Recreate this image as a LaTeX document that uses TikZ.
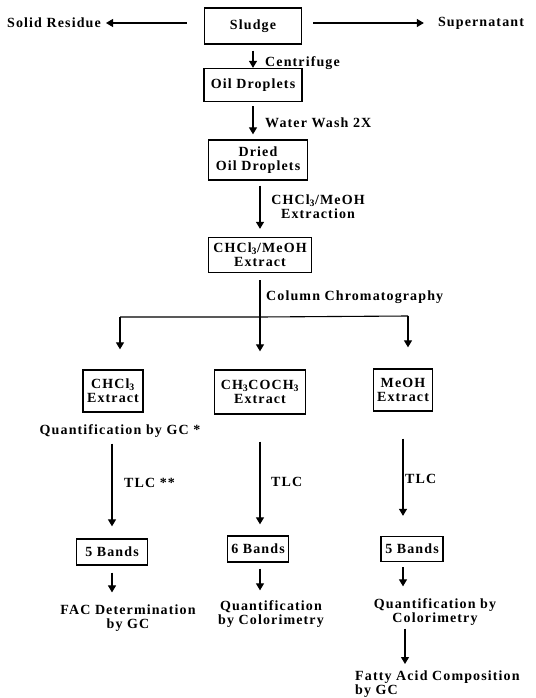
\documentclass[tikz,border=0pt]{standalone}
\usepackage{fontspec}
\setmainfont{Liberation Serif}[LetterSpace=8]
\usetikzlibrary{arrows.meta}
\tikzset{parrow/.style={-{Triangle[width=8pt,length=7pt]},line width=1.1pt}}
\tikzset{pbox/.style={draw,line width=1.3pt,inner sep=1pt,align=center}}
\tikzset{ptext/.style={inner sep=0pt,align=center}}

\begin{document}
\begin{tikzpicture}[x=1pt,y=-1pt,font=\fontsize{14}{14}\selectfont\bfseries]
    \useasboundingbox (0,0) rectangle (535,698);
    \node[pbox,minimum width=97pt,minimum height=36pt] (sludge) at (253,26) {Sludge};
    \node[ptext] (solid) at (54,23) {Solid Residue};
    \node[ptext] (super) at (481,23) {Supernatant};
    \node[pbox,minimum width=98pt,minimum height=33pt] (oil) at (253,85) {Oil Droplets};
    \node[pbox,minimum width=99pt,minimum height=40pt] (dried) at (258,160) {Dried\\Oil Droplets};
    \node[pbox,minimum width=103pt,minimum height=35pt] (extract) at (260,255) {CHCl\textsubscript{3}/MeOH\\Extract};
    \node[pbox,minimum width=60pt,minimum height=42pt] (chcl) at (113,391) {CHCl\textsubscript{3}\\Extract};
    \node[pbox,minimum width=91pt,minimum height=44pt] (acet) at (260,392) {CH\textsubscript{3}COCH\textsubscript{3}\\Extract};
    \node[pbox,minimum width=59pt,minimum height=42pt] (meoh) at (403,390) {MeOH\\Extract};
    \node[ptext] (quantgc) at (120,431) {Quantification by GC *};
    \node[pbox,minimum width=71pt,minimum height=26pt] (bandsA) at (112,552) {5 Bands};
    \node[pbox,minimum width=61pt,minimum height=26pt] (bandsB) at (258,549) {6 Bands};
    \node[pbox,minimum width=62pt,minimum height=25pt] (bandsC) at (412,549) {5 Bands};
    \node[ptext] (fac) at (128,618) {FAC Determination\\by GC};
    \node[ptext] (colB) at (271,614) {Quantification\\by Colorimetry};
    \node[ptext] (colC) at (435,612) {Quantification by\\Colorimetry};
    \node[ptext,align=left,anchor=west,font=\fontsize{14}{11}\selectfont\bfseries] (fatty) at (355,684) {Fatty Acid Composition\\by GC};

    \node[ptext,anchor=west] (centri) at (265,63) {Centrifuge};
    \node[ptext,anchor=west] (wash) at (265,123) {Water Wash 2X};
    \node[ptext] (extraction) at (318,207) {CHCl\textsubscript{3}/MeOH\\Extraction};
    \node[ptext,anchor=west] (column) at (266,297) {Column Chromatography};
    \node[ptext,anchor=west] (tlcA) at (124,483) {TLC **};
    \node[ptext,anchor=west] (tlcB) at (271,482) {TLC};
    \node[ptext,anchor=west] (tlcC) at (405,479) {TLC};

    \coordinate (split) at (260,317);
    \coordinate (barL) at (120,317);
    \coordinate (barR) at (408,316);

    \draw[parrow,shorten <=17pt,shorten >=5pt] (sludge.west |- solid.east) -- (solid.east);
    \draw[parrow,shorten <=11pt,shorten >=14pt] (sludge.east |- super.west) -- (super.west);
    \draw[parrow,shorten <=6pt] (sludge) -- (oil);
    \draw[parrow,shorten <=4pt,shorten >=5pt] (oil.south) -- (oil.south |- dried.north);
    \draw[parrow,shorten <=5pt,shorten >=8pt] (dried.south -| extract) -- (extract.north);
    \draw[line width=1.1pt,shorten <=7pt] (extract.south) -- (split);
    \draw[line width=1.1pt] (barL) -- (split) -- (barR);
    \draw[parrow,shorten >=20pt] (barL) -- (barL |- chcl.north);
    \draw[parrow,shorten >=18pt] (split) -- (acet.north);
    \draw[parrow,shorten >=21pt] (barR) -- (barR |- meoh.north);
    \draw[parrow,shorten <=6pt,shorten >=12pt] (quantgc.south -| bandsA) -- (bandsA.north);
    \draw[parrow,shorten <=27pt,shorten >=11pt] (acet.south) -- (acet.south |- bandsB.north);
    \draw[parrow,shorten <=27pt,shorten >=20pt] (meoh.south) -- (meoh.south |- bandsC.north);
    \draw[parrow,shorten <=7pt,shorten >=12pt] (bandsA.south) -- (bandsA.south |- fac.north);
    \draw[parrow,shorten <=6pt,shorten >=10pt] (bandsB.south -| acet) -- (acet |- colB.north);
    \draw[parrow,shorten <=5pt,shorten >=12pt] (bandsC.south -| meoh) -- (meoh |- colC.north);
    \draw[parrow,shorten <=3pt,shorten >=6pt] (colC.south -| 405,0) -- (405,670);
\end{tikzpicture}
\end{document}
